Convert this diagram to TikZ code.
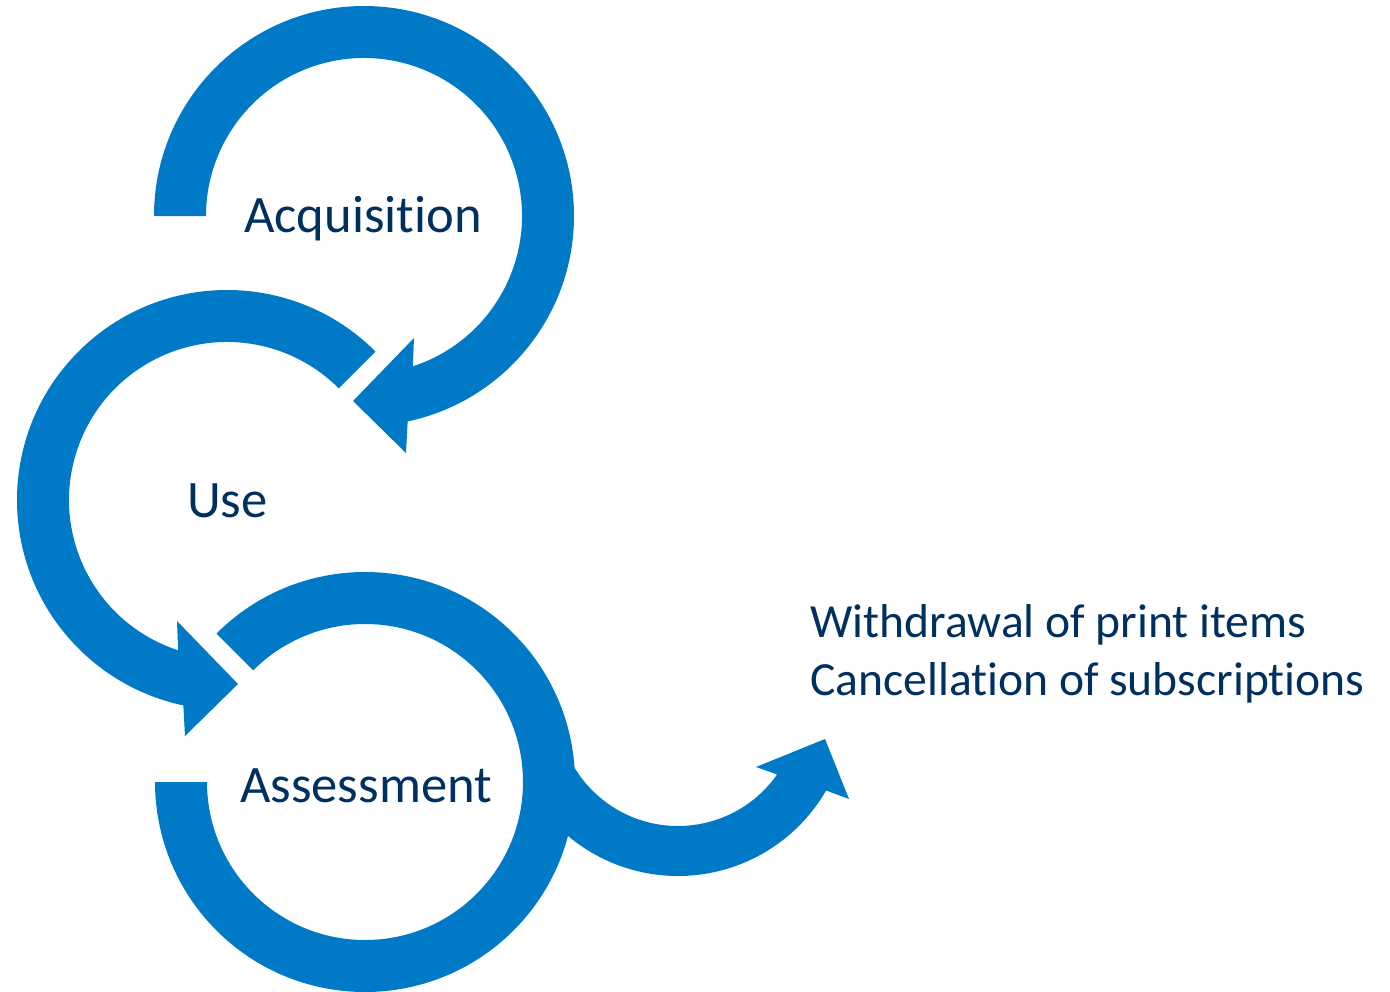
\documentclass[tikz,border=0pt]{standalone}
\usepackage{fontspec}
\setmainfont{Carlito}[Ligatures={NoCommon}]
\usetikzlibrary{calc}
\definecolor{arrowblue}{RGB}{0,121,199}
\definecolor{textnavy}{RGB}{0,48,96}
\tikzset{
  bandfill/.style={fill=arrowblue, draw=none},
  bigtext/.style={anchor=base west, inner sep=0pt, text=textnavy, font=\fontsize{52.6}{63}\selectfont},
  sidetext/.style={anchor=base west, inner sep=0pt, text=textnavy, font=\fontsize{47.6}{58}\selectfont}
}
\begin{document}
\begin{tikzpicture}[x=1pt, y=1pt, yscale=-1]
\useasboundingbox (0,0) rectangle (1390,991);
\coordinate (c1) at (364,216);
\coordinate (c2) at (227,500);
\coordinate (c3) at (365,782);
\coordinate (c4) at (678,705);
% Acquisition arrow
\fill[bandfill] ($(c1)+(180:210)$) arc[start angle=180, end angle=438, radius=210]
  -- (406,453) -- (353,401) -- (414,338)
  -- ($(c1)+(432:158)$) arc[start angle=432, end angle=180, radius=158] -- cycle;
% Use arrow
\fill[bandfill] ($(c2)+(315:210)$) arc[start angle=315, end angle=102, radius=210]
  -- (185,736) -- (238,684) -- (177,621)
  -- ($(c2)+(108:158)$) arc[start angle=108, end angle=315, radius=158] -- cycle;
% Assessment ring
\fill[bandfill] ($(c3)+(225:210)$) arc[start angle=225, end angle=540, radius=210]
  -- ($(c3)+(180:158)$) arc[start angle=540, end angle=225, radius=158] -- cycle;
% exit arrow
\fill[bandfill] ($(c4)+(145:171)$) arc[start angle=145, end angle=30, radius=171]
  -- (849,799) -- (825,739) -- (756,767)
  -- ($(c4)+(35:121)$) arc[start angle=35, end angle=155, radius=121] -- cycle;
% labels
\node[bigtext] (acq) at (244,232) {Acquisition};
\node[bigtext] (use) at (187,517) {Use};
\node[bigtext] (assess) at (240,802) {Assessment};
\node[sidetext] (out1) at (810,637) {Withdrawal of print items};
\node[sidetext] (out2) at (810,695) {Cancellation of subscriptions};
\end{tikzpicture}
\end{document}
